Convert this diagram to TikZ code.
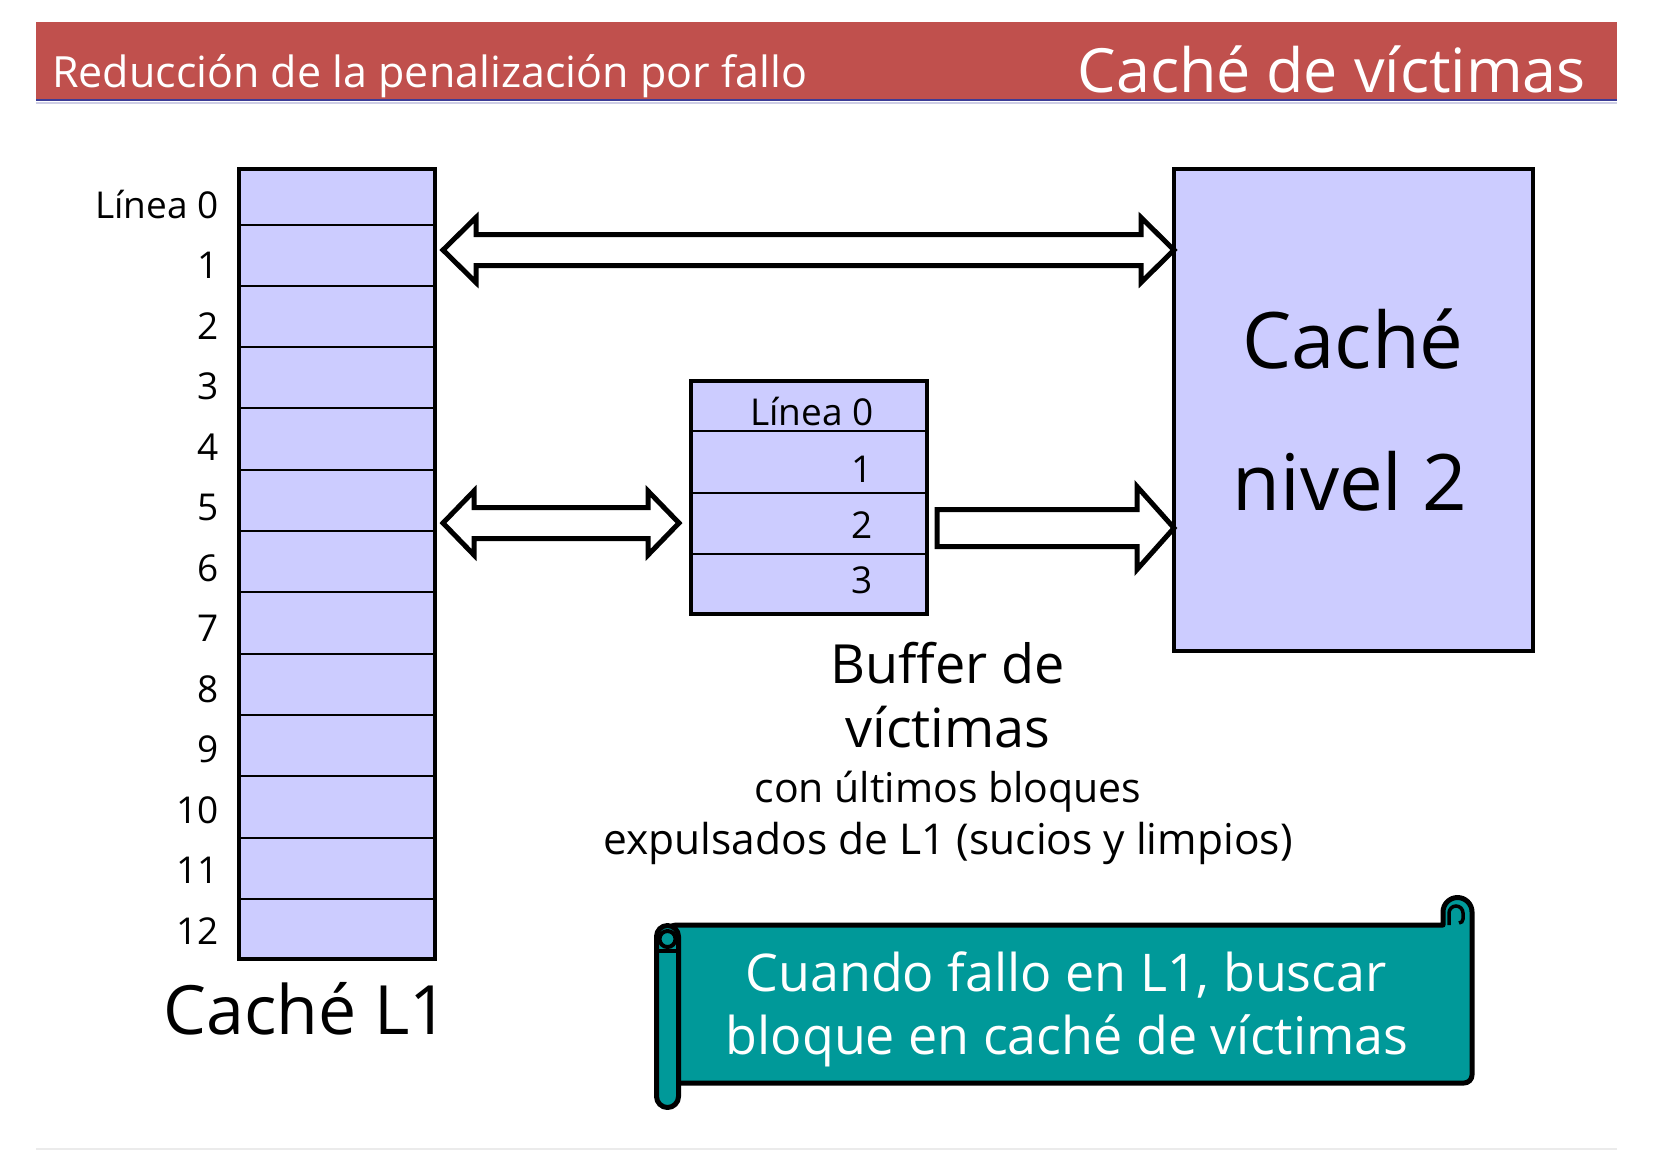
\documentclass[tikz,border=0pt]{standalone}
\usepackage{fontspec}
\setmainfont{Open Sans}
\usetikzlibrary{calc}
\definecolor{barred}{RGB}{192,80,77}
\definecolor{cellblue}{RGB}{204,204,255}
\definecolor{scrollteal}{RGB}{0,153,153}
\definecolor{barnavy}{RGB}{60,60,150}
\newcommand{\fsz}[1]{\fontsize{#1}{#1}\selectfont}
\newcommand{\blockdbl}[5]{%
  \draw[blockarr] (#1) -- ++(#5,-#4) -- ++(0,#4-#3) -- ($(#2)+(-#5,-#3)$) -- ++(0,#3-#4)
    -- (#2) -- ++(-#5,#4) -- ++(0,#3-#4) -- ($(#1)+(#5,#3)$) -- ++(0,#4-#3) -- cycle;}
\newcommand{\blocksgl}[5]{%
  \draw[blockarr] ($(#1)+(0,-#3)$) -- ($(#2)+(-#5,-#3)$) -- ++(0,#3-#4)
    -- (#2) -- ++(-#5,#4) -- ++(0,#3-#4) -- ($(#1)+(0,#3)$) -- cycle;}
\tikzset{
  boxsty/.style={draw=black, fill=cellblue, line width=4, inner sep=0, outer sep=0, anchor=north west},
  rowline/.style={line width=2},
  lbl/.style={anchor=base east, inner sep=0, font=\fsz{37}},
  bigtxt/.style={anchor=base, inner sep=0},
  blockarr/.style={draw=black, fill=white, line width=5, line join=miter},
  scrollsty/.style={draw=black, fill=scrollteal, line width=5, line join=round},
}
\begin{document}
\begin{tikzpicture}[x=1pt,y=-1pt]
\useasboundingbox[fill=white] (0,0) rectangle (1654,1152);
% title bar
\fill[barred] (36,22) rectangle (1617,100);
\draw[barnavy, line width=2] (36,100) -- (1617,100);
\draw[barnavy!25, line width=2] (36,102.5) -- (1617,102.5);
\node[anchor=base west, inner sep=0, text=white, font=\fsz{43}] (tleft) at (52,87) {Reducción de la penalización por fallo};
\node[anchor=base east, inner sep=0, text=white, font=\fsz{61}] (tright) at (1586,92) {Caché de víctimas};
% cache L1
\node[boxsty, minimum width=196, minimum height=790] (l1) at (239,169) {};
\foreach \k in {0,...,11} {
  \draw[rowline] (241,{224.5+61.3*\k}) -- (433,{224.5+61.3*\k});
}
\node[lbl] (lab0) at (219,218) {Línea 0};
\foreach \k in {1,...,12} {
  \node[lbl] (lab\k) at (219,{218+60.5*\k}) {\k};
}
\node[bigtxt, font=\fsz{68}] (l1name) at (306,1034) {Caché L1};
% victim buffer
\node[boxsty, minimum width=236, minimum height=233] (buf) at (691,381) {};
\foreach \yy in {431,493,554} {
  \draw[rowline] (693,\yy) -- (925,\yy);
}
\node[lbl] (blab0) at (874,425) {Línea 0};
\node[lbl] (blab1) at (873,482) {1};
\node[lbl] (blab2) at (873,538) {2};
\node[lbl] (blab3) at (873,593) {3};
\node[bigtxt, font=\fsz{54}] (bd1) at (948,683) {Buffer de};
\node[bigtxt, font=\fsz{54}] (bd2) at (948,747) {víctimas};
\node[bigtxt, font=\fsz{41}] (bd3) at (948,802) {con últimos bloques};
\node[bigtxt, font=\fsz{42.5}] (bd4) at (948,854) {expulsados de L1 (sucios y limpios)};
% cache L2
\node[boxsty, minimum width=359, minimum height=482] (l2) at (1174,169) {};
\node[bigtxt, font=\fsz{78}] (l2a) at (1353,368) {Caché};
\node[bigtxt, font=\fsz{78}] (l2b) at (1350,510) {nivel 2};
% arrows
\coordinate (a1L) at ($(l1.north east)+(8,81)$);
\coordinate (a1R) at (l2.west |- a1L);
\coordinate (a2L) at ($(l1.north east)+(8,354)$);
\coordinate (a2R) at ($(buf.west |- a2L)+(-12,0)$);
\coordinate (a3L) at ($(buf.north east)+(10,147)$);
\coordinate (a3R) at (l2.west |- a3L);
\blockdbl{a1L}{a1R}{15.5}{32.5}{33}
\blockdbl{a2L}{a2R}{15.5}{32}{31}
\blocksgl{a3L}{a3R}{18.5}{41.5}{37}
% scroll
\draw[scrollsty] (668,925) -- (1443,925) -- (1443,912) arc (180:360:14.5)
  [rounded corners=8] -- (1472,1083) -- (668,1083) -- cycle;
\draw[line width=3.5] (1449,925) -- (1449,913) arc (180:360:7) -- (1463,919) arc (0:90:4);
\draw[scrollsty, rounded corners=11] (656.5,925.5) rectangle (678.5,1107.5);
\draw[line width=4] (667.5,939) circle (8);
\draw[line width=4] (657,951) -- (678,951);
\node[bigtxt, text=white, font=\fsz{52}] (s1) at (1066,991) {Cuando fallo en L1, buscar};
\node[bigtxt, text=white, font=\fsz{52}] (s2) at (1067,1054) {bloque en caché de víctimas};
% bottom rule
\draw[black!8, line width=1.5] (36,1149) -- (1617,1149);
\end{tikzpicture}
\end{document}
